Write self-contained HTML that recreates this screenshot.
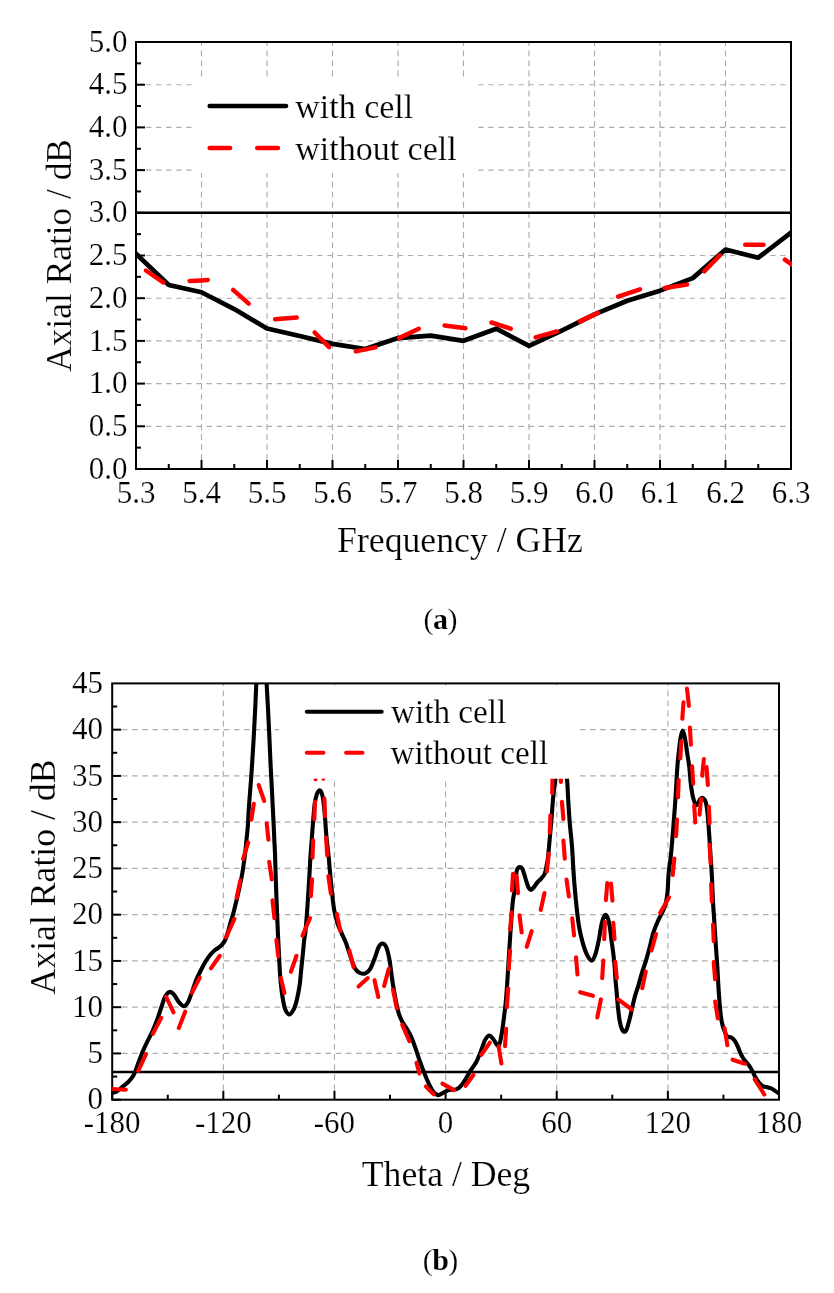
<!DOCTYPE html><html><head><meta charset="utf-8"><style>html,body{margin:0;padding:0;background:#fff;}svg{display:block;will-change:transform;} text{stroke:#fff;stroke-width:0.2px;}</style></head><body><svg width="834" height="1293" viewBox="0 0 834 1293"><g stroke="#acacac" stroke-width="1.15" fill="none"><line x1="136" y1="426.3" x2="791" y2="426.3" stroke-dasharray="5.25 4.817" stroke-dashoffset="0"/><line x1="136" y1="383.6" x2="791" y2="383.6" stroke-dasharray="5.25 4.817" stroke-dashoffset="0"/><line x1="136" y1="340.9" x2="791" y2="340.9" stroke-dasharray="5.25 4.817" stroke-dashoffset="0"/><line x1="136" y1="298.2" x2="791" y2="298.2" stroke-dasharray="5.25 4.817" stroke-dashoffset="0"/><line x1="136" y1="255.5" x2="791" y2="255.5" stroke-dasharray="5.25 4.817" stroke-dashoffset="0"/><line x1="136" y1="212.8" x2="791" y2="212.8" stroke-dasharray="5.25 4.817" stroke-dashoffset="0"/><line x1="136" y1="170.1" x2="791" y2="170.1" stroke-dasharray="5.25 4.817" stroke-dashoffset="0"/><line x1="136" y1="127.4" x2="791" y2="127.4" stroke-dasharray="5.25 4.817" stroke-dashoffset="0"/><line x1="136" y1="84.7" x2="791" y2="84.7" stroke-dasharray="5.25 4.817" stroke-dashoffset="0"/><line x1="201.5" y1="469" x2="201.5" y2="42" stroke-dasharray="5.9 4.2" stroke-dashoffset="1.3"/><line x1="267" y1="469" x2="267" y2="42" stroke-dasharray="5.9 4.2" stroke-dashoffset="1.3"/><line x1="332.5" y1="469" x2="332.5" y2="42" stroke-dasharray="5.9 4.2" stroke-dashoffset="1.3"/><line x1="398" y1="469" x2="398" y2="42" stroke-dasharray="5.9 4.2" stroke-dashoffset="1.3"/><line x1="463.5" y1="469" x2="463.5" y2="42" stroke-dasharray="5.9 4.2" stroke-dashoffset="1.3"/><line x1="529" y1="469" x2="529" y2="42" stroke-dasharray="5.9 4.2" stroke-dashoffset="1.3"/><line x1="594.5" y1="469" x2="594.5" y2="42" stroke-dasharray="5.9 4.2" stroke-dashoffset="1.3"/><line x1="660" y1="469" x2="660" y2="42" stroke-dasharray="5.9 4.2" stroke-dashoffset="1.3"/><line x1="725.5" y1="469" x2="725.5" y2="42" stroke-dasharray="5.9 4.2" stroke-dashoffset="1.3"/></g>
<g stroke="#000" stroke-width="2"><line x1="136" y1="469" x2="145" y2="469"/><line x1="136" y1="426.3" x2="145" y2="426.3"/><line x1="136" y1="383.6" x2="145" y2="383.6"/><line x1="136" y1="340.9" x2="145" y2="340.9"/><line x1="136" y1="298.2" x2="145" y2="298.2"/><line x1="136" y1="255.5" x2="145" y2="255.5"/><line x1="136" y1="212.8" x2="145" y2="212.8"/><line x1="136" y1="170.1" x2="145" y2="170.1"/><line x1="136" y1="127.4" x2="145" y2="127.4"/><line x1="136" y1="84.7" x2="145" y2="84.7"/><line x1="136" y1="447.65" x2="141" y2="447.65"/><line x1="136" y1="404.95" x2="141" y2="404.95"/><line x1="136" y1="362.25" x2="141" y2="362.25"/><line x1="136" y1="319.55" x2="141" y2="319.55"/><line x1="136" y1="276.85" x2="141" y2="276.85"/><line x1="136" y1="234.15" x2="141" y2="234.15"/><line x1="136" y1="191.45" x2="141" y2="191.45"/><line x1="136" y1="148.75" x2="141" y2="148.75"/><line x1="136" y1="106.05" x2="141" y2="106.05"/><line x1="136" y1="63.35" x2="141" y2="63.35"/><line x1="136" y1="469" x2="136" y2="460"/><line x1="201.5" y1="469" x2="201.5" y2="460"/><line x1="267" y1="469" x2="267" y2="460"/><line x1="332.5" y1="469" x2="332.5" y2="460"/><line x1="398" y1="469" x2="398" y2="460"/><line x1="463.5" y1="469" x2="463.5" y2="460"/><line x1="529" y1="469" x2="529" y2="460"/><line x1="594.5" y1="469" x2="594.5" y2="460"/><line x1="660" y1="469" x2="660" y2="460"/><line x1="725.5" y1="469" x2="725.5" y2="460"/><line x1="168.75" y1="469" x2="168.75" y2="464"/><line x1="234.25" y1="469" x2="234.25" y2="464"/><line x1="299.75" y1="469" x2="299.75" y2="464"/><line x1="365.25" y1="469" x2="365.25" y2="464"/><line x1="430.75" y1="469" x2="430.75" y2="464"/><line x1="496.25" y1="469" x2="496.25" y2="464"/><line x1="561.75" y1="469" x2="561.75" y2="464"/><line x1="627.25" y1="469" x2="627.25" y2="464"/><line x1="692.75" y1="469" x2="692.75" y2="464"/><line x1="758.25" y1="469" x2="758.25" y2="464"/></g>
<line x1="136" y1="212.8" x2="791" y2="212.8" stroke="#000" stroke-width="2.5"/>
<rect x="136" y="42" width="655" height="427" fill="none" stroke="#000" stroke-width="2"/>
<clipPath id="ca"><rect x="136" y="42" width="656" height="427"/></clipPath>
<g clip-path="url(#ca)" fill="none" stroke-linejoin="round" stroke-linecap="round">
<polyline stroke="#000" stroke-width="4.7" points="136,253.79 168.75,284.96 201.5,292.22 234.25,309.05 267,328.52 299.75,336.03 332.5,343.89 365.25,349.01 398,338.08 430.75,335.69 463.5,340.81 496.25,328.69 529,345.94 561.75,330.57 594.5,314.34 627.25,300.76 660,290.68 692.75,278.13 725.5,249.52 758.25,257.72 791,232.61"/>
<polyline stroke="#ff0000" stroke-width="4.5" points="145.9,270.5 163.3,282.5"/>
<polyline stroke="#ff0000" stroke-width="4.5" points="189.6,280.9 201.5,280.4 207.8,280"/>
<polyline stroke="#ff0000" stroke-width="4.5" points="233.1,289.9 248.7,303.6"/>
<polyline stroke="#ff0000" stroke-width="4.5" points="275.1,319.2 296.7,317.6"/>
<polyline stroke="#ff0000" stroke-width="4.5" points="314.6,332.5 329.1,347.2"/>
<polyline stroke="#ff0000" stroke-width="4.5" points="355.8,351.4 375.5,347.4"/>
<polyline stroke="#ff0000" stroke-width="4.5" points="399,338.1 418.8,328.8"/>
<polyline stroke="#ff0000" stroke-width="4.5" points="444.6,325.5 465.5,328.2"/>
<polyline stroke="#ff0000" stroke-width="4.5" points="491.5,322.5 510.7,328.7"/>
<polyline stroke="#ff0000" stroke-width="4.5" points="535.6,337.3 556.7,331.5"/>
<polyline stroke="#ff0000" stroke-width="4.5" points="579.8,321.4 598,312.9"/>
<polyline stroke="#ff0000" stroke-width="4.5" points="618.1,296.6 640,289.3"/>
<polyline stroke="#ff0000" stroke-width="4.5" points="664.7,288 687.1,284.6"/>
<polyline stroke="#ff0000" stroke-width="4.5" points="704.4,271.3 719.7,255.4"/>
<polyline stroke="#ff0000" stroke-width="4.5" points="745.2,244.8 763.5,244.8"/>
<polyline stroke="#ff0000" stroke-width="4.5" points="784.9,259.7 793,265.5"/>
</g>
<rect x="192" y="79" width="285.5" height="94" fill="#fff"/>
<g fill="none" stroke-width="4.6" stroke-linecap="round">
<line x1="209.7" y1="106" x2="286" y2="106" stroke="#000"/>
<line x1="209.7" y1="148" x2="230.1" y2="148" stroke="#ff0000"/>
<line x1="257.3" y1="148" x2="277.9" y2="148" stroke="#ff0000"/>
</g>
<g font-family='"Liberation Serif", serif' font-size="34" fill="#000">
<text x="295.2" y="118">with cell</text>
<text x="295.2" y="159.7">without cell</text>
</g>
<g font-family='"Liberation Serif", serif' font-size="31" fill="#000">
<text x="127.5" y="478.6" text-anchor="end">0.0</text>
<text x="127.5" y="435.9" text-anchor="end">0.5</text>
<text x="127.5" y="393.2" text-anchor="end">1.0</text>
<text x="127.5" y="350.5" text-anchor="end">1.5</text>
<text x="127.5" y="307.8" text-anchor="end">2.0</text>
<text x="127.5" y="265.1" text-anchor="end">2.5</text>
<text x="127.5" y="222.4" text-anchor="end">3.0</text>
<text x="127.5" y="179.7" text-anchor="end">3.5</text>
<text x="127.5" y="137" text-anchor="end">4.0</text>
<text x="127.5" y="94.3" text-anchor="end">4.5</text>
<text x="127.5" y="51.6" text-anchor="end">5.0</text>
<text x="136" y="502.7" text-anchor="middle">5.3</text>
<text x="201.5" y="502.7" text-anchor="middle">5.4</text>
<text x="267" y="502.7" text-anchor="middle">5.5</text>
<text x="332.5" y="502.7" text-anchor="middle">5.6</text>
<text x="398" y="502.7" text-anchor="middle">5.7</text>
<text x="463.5" y="502.7" text-anchor="middle">5.8</text>
<text x="529" y="502.7" text-anchor="middle">5.9</text>
<text x="594.5" y="502.7" text-anchor="middle">6.0</text>
<text x="660" y="502.7" text-anchor="middle">6.1</text>
<text x="725.5" y="502.7" text-anchor="middle">6.2</text>
<text x="791" y="502.7" text-anchor="middle">6.3</text>
</g>
<g font-family='"Liberation Serif", serif' font-size="35.7" fill="#000">
<text x="460" y="552.4" text-anchor="middle">Frequency / GHz</text>
<text transform="translate(70.6,255.4) rotate(-90)" text-anchor="middle" font-size="35.35">Axial Ratio / dB</text>
</g>
<text x="440.2" y="628.8" text-anchor="middle" font-family='"Liberation Serif", serif' font-size="30" letter-spacing="-0.6">(<tspan font-weight="bold">a</tspan>)</text>
<g stroke="#acacac" stroke-width="1.15" fill="none"><line x1="112.2" y1="1053.44" x2="779" y2="1053.44" stroke-dasharray="5.6 4.575" stroke-dashoffset="0.4"/><line x1="112.2" y1="1007.19" x2="779" y2="1007.19" stroke-dasharray="5.6 4.575" stroke-dashoffset="0.4"/><line x1="112.2" y1="960.93" x2="779" y2="960.93" stroke-dasharray="5.6 4.575" stroke-dashoffset="0.4"/><line x1="112.2" y1="914.68" x2="779" y2="914.68" stroke-dasharray="5.6 4.575" stroke-dashoffset="0.4"/><line x1="112.2" y1="868.42" x2="779" y2="868.42" stroke-dasharray="5.6 4.575" stroke-dashoffset="0.4"/><line x1="112.2" y1="822.17" x2="779" y2="822.17" stroke-dasharray="5.6 4.575" stroke-dashoffset="0.4"/><line x1="112.2" y1="775.91" x2="779" y2="775.91" stroke-dasharray="5.6 4.575" stroke-dashoffset="0.4"/><line x1="112.2" y1="729.66" x2="779" y2="729.66" stroke-dasharray="5.6 4.575" stroke-dashoffset="0.4"/><line x1="223.33" y1="1099.7" x2="223.33" y2="683.4" stroke-dasharray="5.7 4.4" stroke-dashoffset="0.5"/><line x1="334.47" y1="1099.7" x2="334.47" y2="683.4" stroke-dasharray="5.7 4.4" stroke-dashoffset="0.5"/><line x1="445.6" y1="1099.7" x2="445.6" y2="683.4" stroke-dasharray="5.7 4.4" stroke-dashoffset="0.5"/><line x1="556.73" y1="1099.7" x2="556.73" y2="683.4" stroke-dasharray="5.7 4.4" stroke-dashoffset="0.5"/><line x1="667.87" y1="1099.7" x2="667.87" y2="683.4" stroke-dasharray="5.7 4.4" stroke-dashoffset="0.5"/></g>
<g stroke="#000" stroke-width="2"><line x1="112.2" y1="1099.7" x2="121.2" y2="1099.7"/><line x1="112.2" y1="1053.44" x2="121.2" y2="1053.44"/><line x1="112.2" y1="1007.19" x2="121.2" y2="1007.19"/><line x1="112.2" y1="960.93" x2="121.2" y2="960.93"/><line x1="112.2" y1="914.68" x2="121.2" y2="914.68"/><line x1="112.2" y1="868.42" x2="121.2" y2="868.42"/><line x1="112.2" y1="822.17" x2="121.2" y2="822.17"/><line x1="112.2" y1="775.91" x2="121.2" y2="775.91"/><line x1="112.2" y1="729.66" x2="121.2" y2="729.66"/><line x1="112.2" y1="1076.57" x2="117.2" y2="1076.57"/><line x1="112.2" y1="1030.32" x2="117.2" y2="1030.32"/><line x1="112.2" y1="984.06" x2="117.2" y2="984.06"/><line x1="112.2" y1="937.81" x2="117.2" y2="937.81"/><line x1="112.2" y1="891.55" x2="117.2" y2="891.55"/><line x1="112.2" y1="845.29" x2="117.2" y2="845.29"/><line x1="112.2" y1="799.04" x2="117.2" y2="799.04"/><line x1="112.2" y1="752.78" x2="117.2" y2="752.78"/><line x1="112.2" y1="706.53" x2="117.2" y2="706.53"/><line x1="112.2" y1="1099.7" x2="112.2" y2="1090.7"/><line x1="223.33" y1="1099.7" x2="223.33" y2="1090.7"/><line x1="334.47" y1="1099.7" x2="334.47" y2="1090.7"/><line x1="445.6" y1="1099.7" x2="445.6" y2="1090.7"/><line x1="556.73" y1="1099.7" x2="556.73" y2="1090.7"/><line x1="667.87" y1="1099.7" x2="667.87" y2="1090.7"/><line x1="167.77" y1="1099.7" x2="167.77" y2="1094.7"/><line x1="278.9" y1="1099.7" x2="278.9" y2="1094.7"/><line x1="390.03" y1="1099.7" x2="390.03" y2="1094.7"/><line x1="501.17" y1="1099.7" x2="501.17" y2="1094.7"/><line x1="612.3" y1="1099.7" x2="612.3" y2="1094.7"/><line x1="723.43" y1="1099.7" x2="723.43" y2="1094.7"/></g>
<line x1="112.2" y1="1071.95" x2="779" y2="1071.95" stroke="#000" stroke-width="2.5"/>
<rect x="112.2" y="683.4" width="666.8" height="416.3" fill="none" stroke="#000" stroke-width="2"/>
<clipPath id="cb"><rect x="112.2" y="683.4" width="667.8" height="416.3"/></clipPath>
<g clip-path="url(#cb)" fill="none" stroke-linejoin="round" stroke-linecap="round" stroke-width="4.1">
<path stroke="#000" d="M112.3,1092.8 C113.03,1092.58 114.98,1092.52 116.7,1091.5 C118.42,1090.48 120.63,1088.33 122.6,1086.7 C124.57,1085.07 126.82,1083.37 128.5,1081.7 C130.18,1080.03 131.58,1078.38 132.7,1076.7 C133.82,1075.02 134.23,1073.98 135.2,1071.6 C136.17,1069.22 137.25,1065.75 138.5,1062.4 C139.75,1059.05 141.15,1055.13 142.7,1051.5 C144.25,1047.87 146.12,1044.1 147.8,1040.6 C149.48,1037.1 151.13,1034.28 152.8,1030.5 C154.47,1026.72 156.27,1022.1 157.8,1017.9 C159.33,1013.7 160.73,1008.93 162,1005.3 C163.27,1001.67 164.13,998.33 165.4,996.1 C166.67,993.87 168.2,992.18 169.6,991.9 C171,991.62 172.27,992.72 173.8,994.4 C175.33,996.08 177.12,1000.03 178.8,1002 C180.48,1003.97 182.35,1006.2 183.9,1006.2 C185.45,1006.2 186.7,1004.52 188.1,1002 C189.5,999.48 190.9,994.88 192.3,991.1 C193.7,987.32 195.05,982.82 196.5,979.3 C197.95,975.78 199.58,972.8 201,970 C202.42,967.2 203.48,965 205,962.5 C206.52,960 208.42,957.08 210.1,955 C211.78,952.92 213.43,951.4 215.1,950 C216.77,948.6 218.57,948 220.1,946.6 C221.63,945.2 223.17,943.42 224.3,941.6 C225.43,939.78 225.92,938.65 226.9,935.7 C227.88,932.75 229.08,927.82 230.2,923.9 C231.32,919.98 232.48,916.38 233.6,912.2 C234.72,908.02 235.78,903.57 236.9,898.8 C238.02,894.03 239.32,888.37 240.3,883.6 C241.28,878.83 242,875.2 242.8,870.2 C243.6,865.2 244.48,858.7 245.1,853.6 C245.72,848.5 246.03,844.25 246.5,839.6 C246.97,834.95 247.55,830.33 247.9,825.7 C248.25,821.07 248.32,816.43 248.6,811.8 C248.88,807.17 249.25,802.55 249.6,797.9 C249.95,793.25 250.35,788.55 250.7,783.9 C251.05,779.25 251.2,777.72 251.7,770 C252.2,762.28 253.12,747.8 253.7,737.6 C254.28,727.4 254.77,717.9 255.2,708.8 C255.63,699.7 255.92,691.13 256.3,683 C256.68,674.87 256.63,666.33 257.5,660 C258.37,653.67 260.17,645 261.5,645 C262.83,645 264.65,653.67 265.5,660 C266.35,666.33 266.18,674.87 266.6,683 C267.02,691.13 267.53,699.7 268,708.8 C268.47,717.9 268.97,728.23 269.4,737.6 C269.83,746.97 270.23,757.28 270.6,765 C270.97,772.72 271.32,778.42 271.6,783.9 C271.88,789.38 272.07,793.25 272.3,797.9 C272.53,802.55 272.77,807.17 273,811.8 C273.23,816.43 273.48,821.07 273.7,825.7 C273.92,830.33 274.08,834.95 274.3,839.6 C274.52,844.25 274.78,847.93 275,853.6 C275.22,859.27 275.3,864.68 275.6,873.6 C275.9,882.52 276.38,896.47 276.8,907.1 C277.22,917.73 277.73,929.52 278.1,937.4 C278.47,945.28 278.73,949.17 279,954.4 C279.27,959.63 279.4,964 279.7,968.8 C280,973.6 280.32,978.4 280.8,983.2 C281.28,988 281.88,993.28 282.6,997.6 C283.32,1001.92 284.02,1006.28 285.1,1009.1 C286.18,1011.92 287.77,1014.27 289.1,1014.5 C290.43,1014.73 291.97,1012.37 293.1,1010.5 C294.23,1008.63 295.07,1006.05 295.9,1003.3 C296.73,1000.55 297.43,997.35 298.1,994 C298.77,990.65 299.37,987.4 299.9,983.2 C300.43,979 300.82,973.6 301.3,968.8 C301.78,964 302.32,959.2 302.8,954.4 C303.28,949.6 303.77,943.68 304.2,940 C304.63,936.32 304.87,937.78 305.4,932.3 C305.93,926.82 306.72,916.88 307.4,907.1 C308.08,897.32 309,881.95 309.5,873.6 C310,865.25 310.07,862.08 310.4,857 C310.73,851.92 311.15,847.73 311.5,843.1 C311.85,838.47 312.15,833.83 312.5,829.2 C312.85,824.57 313.22,819.67 313.6,815.3 C313.98,810.93 314.3,806.38 314.8,803 C315.3,799.62 316,796.95 316.6,795 C317.2,793.05 317.9,792.07 318.4,791.3 C318.9,790.53 319.2,790.4 319.6,790.4 C320,790.4 320.35,790.53 320.8,791.3 C321.25,792.07 321.85,793.22 322.3,795 C322.75,796.78 323.03,798.05 323.5,802 C323.97,805.95 324.67,813.58 325.1,818.7 C325.53,823.82 325.7,828.05 326.1,832.7 C326.5,837.35 327.03,842.2 327.5,846.6 C327.97,851 328.52,855.2 328.9,859.1 C329.28,863 329.32,864.78 329.8,870 C330.28,875.22 331.07,883.72 331.8,890.4 C332.53,897.08 333.23,904.58 334.2,910.1 C335.17,915.62 336.33,919.58 337.6,923.5 C338.87,927.42 340.42,930.38 341.8,933.6 C343.18,936.82 344.52,939.17 345.9,942.8 C347.28,946.43 348.55,951.07 350.1,955.4 C351.65,959.73 353.52,965.87 355.2,968.8 C356.88,971.73 358.52,972.23 360.2,973 C361.88,973.77 363.62,974.1 365.3,973.4 C366.98,972.7 368.77,971.23 370.3,968.8 C371.83,966.37 373.1,962.43 374.5,958.8 C375.9,955.17 377.38,949.55 378.7,947 C380.02,944.45 381.15,943.5 382.4,943.5 C383.65,943.5 385,944.18 386.2,947 C387.4,949.82 388.62,955.08 389.6,960.4 C390.58,965.72 391.12,972.47 392.1,978.9 C393.08,985.33 394.38,993.23 395.5,999 C396.62,1004.77 397.62,1009.62 398.8,1013.5 C399.98,1017.38 401.2,1019.67 402.6,1022.3 C404,1024.93 405.72,1026.75 407.2,1029.3 C408.68,1031.85 410.07,1034.3 411.5,1037.6 C412.93,1040.9 414.37,1045.03 415.8,1049.1 C417.23,1053.17 418.65,1057.93 420.1,1062 C421.55,1066.07 423.05,1069.9 424.5,1073.5 C425.95,1077.1 427.37,1080.6 428.8,1083.6 C430.23,1086.6 431.55,1089.58 433.1,1091.5 C434.65,1093.42 436.42,1094.87 438.1,1095.1 C439.78,1095.33 441.4,1093.73 443.2,1092.9 C445,1092.07 446.75,1090.68 448.9,1090.1 C451.05,1089.52 454.18,1090 456.1,1089.4 C458.02,1088.8 458.97,1087.95 460.4,1086.5 C461.83,1085.05 463.02,1083.35 464.7,1080.7 C466.38,1078.05 468.57,1073.72 470.5,1070.6 C472.43,1067.48 474.62,1065.12 476.3,1062 C477.98,1058.88 479.17,1055.5 480.6,1051.9 C482.03,1048.3 483.47,1043.13 484.9,1040.4 C486.33,1037.67 487.77,1035.65 489.2,1035.5 C490.63,1035.35 491.95,1037.75 493.5,1039.5 C495.05,1041.25 497.18,1046.67 498.5,1046 C499.82,1045.33 500.55,1039.78 501.4,1035.5 C502.25,1031.22 502.87,1025.95 503.6,1020.3 C504.33,1014.65 505.18,1007.98 505.8,1001.6 C506.42,995.22 506.82,989.08 507.3,982 C507.78,974.92 508.23,966.5 508.7,959.1 C509.17,951.7 509.62,944.78 510.1,937.6 C510.58,930.42 511.12,922.27 511.6,916 C512.08,909.73 512.47,904.4 513,900 C513.53,895.6 514.32,893.13 514.8,889.6 C515.28,886.07 515.55,882.05 515.9,878.8 C516.25,875.55 516.25,872.07 516.9,870.1 C517.55,868.13 518.9,867.23 519.8,867 C520.7,866.77 521.52,867.33 522.3,868.7 C523.08,870.07 523.77,872.92 524.5,875.2 C525.23,877.48 525.98,880.25 526.7,882.4 C527.42,884.55 528.08,886.85 528.8,888.1 C529.52,889.35 530.17,890.02 531,889.9 C531.83,889.78 532.73,888.65 533.8,887.4 C534.87,886.15 536.2,883.83 537.4,882.4 C538.6,880.97 539.92,880 541,878.8 C542.08,877.6 543.17,876.4 543.9,875.2 C544.63,874 544.92,873.4 545.4,871.6 C545.88,869.8 546.37,866.75 546.8,864.4 C547.23,862.05 547.52,861.72 548,857.5 C548.48,853.28 549.1,845.75 549.7,839.1 C550.3,832.45 551,824.78 551.6,817.6 C552.2,810.42 552.65,802.48 553.3,796 C553.95,789.52 554.8,784.7 555.5,778.7 C556.2,772.7 556.58,765.62 557.5,760 C558.42,754.38 559.83,745 561,745 C562.17,745 563.5,754.38 564.5,760 C565.5,765.62 566.35,771.5 567,778.7 C567.65,785.9 567.92,795.53 568.4,803.2 C568.88,810.87 569.3,817.52 569.9,824.7 C570.5,831.88 571.42,838.75 572,846.3 C572.58,853.85 572.93,862.95 573.4,870 C573.87,877.05 574.27,882.4 574.8,888.6 C575.33,894.8 575.92,901.02 576.6,907.2 C577.28,913.38 577.9,919.83 578.9,925.7 C579.9,931.57 581.2,937.45 582.6,942.4 C584,947.35 585.75,952.37 587.3,955.4 C588.85,958.43 590.52,960.9 591.9,960.6 C593.28,960.3 594.43,957.08 595.6,953.6 C596.77,950.12 597.9,944.63 598.9,939.7 C599.9,934.77 600.62,928.07 601.6,924 C602.58,919.93 603.85,916.48 604.8,915.3 C605.75,914.12 606.5,915.17 607.3,916.9 C608.1,918.63 608.92,921.9 609.6,925.7 C610.28,929.5 610.78,935.05 611.4,939.7 C612.02,944.35 612.75,948.97 613.3,953.6 C613.85,958.23 614.33,963.1 614.7,967.5 C615.07,971.9 615.18,976 615.5,980 C615.82,984 616.22,987.18 616.6,991.5 C616.98,995.82 617.3,1001.1 617.8,1005.9 C618.3,1010.7 618.93,1016.47 619.6,1020.3 C620.27,1024.13 621,1026.98 621.8,1028.9 C622.6,1030.82 623.57,1031.8 624.4,1031.8 C625.23,1031.8 625.92,1031.07 626.8,1028.9 C627.68,1026.73 628.73,1022.63 629.7,1018.8 C630.67,1014.97 631.63,1009.97 632.6,1005.9 C633.57,1001.83 634.55,997.75 635.5,994.4 C636.45,991.05 637.27,989.28 638.3,985.8 C639.33,982.32 640.42,977.7 641.7,973.5 C642.98,969.3 644.68,964.92 646,960.6 C647.32,956.28 648.4,952.17 649.6,947.6 C650.8,943.03 651.87,937.52 653.2,933.2 C654.53,928.88 656.15,925.05 657.6,921.7 C659.05,918.35 660.58,915.97 661.9,913.1 C663.22,910.23 664.55,908.1 665.5,904.5 C666.45,900.9 667.08,896.65 667.6,891.5 C668.12,886.35 668.07,879.47 668.6,873.6 C669.13,867.73 670.12,862.78 670.8,856.3 C671.48,849.82 672.1,841.88 672.7,834.7 C673.3,827.52 673.88,820.15 674.4,813.2 C674.92,806.25 675.3,800.82 675.8,793 C676.3,785.18 676.9,773.15 677.4,766.3 C677.9,759.45 678.27,756.68 678.8,751.9 C679.33,747.12 679.95,741.17 680.6,737.6 C681.25,734.03 681.98,730.5 682.7,730.5 C683.42,730.5 684.18,734.03 684.9,737.6 C685.62,741.17 686.28,747.12 687,751.9 C687.72,756.68 688.55,760.88 689.2,766.3 C689.85,771.72 690.2,778.98 690.9,784.4 C691.6,789.82 692.43,795.32 693.4,798.8 C694.37,802.28 695.55,805.3 696.7,805.3 C697.85,805.3 699.22,800 700.3,798.8 C701.38,797.6 702.28,797.5 703.2,798.1 C704.12,798.7 705.08,799.88 705.8,802.4 C706.52,804.92 706.93,807.82 707.5,813.2 C708.07,818.58 708.68,827.52 709.2,834.7 C709.72,841.88 710.13,849.08 710.6,856.3 C711.07,863.52 711.6,870.45 712,878 C712.4,885.55 712.6,894.07 713,901.6 C713.4,909.13 713.93,916.02 714.4,923.2 C714.87,930.38 715.32,937.52 715.8,944.7 C716.28,951.88 716.85,959.1 717.3,966.3 C717.75,973.5 718.02,980.62 718.5,987.9 C718.98,995.18 719.65,1004.32 720.2,1010 C720.75,1015.68 721.13,1018.6 721.8,1022 C722.47,1025.4 723.3,1028 724.2,1030.4 C725.1,1032.8 726,1035.2 727.2,1036.4 C728.4,1037.6 730.1,1036.8 731.4,1037.6 C732.7,1038.4 733.9,1039.62 735,1041.2 C736.1,1042.78 737,1044.92 738,1047.1 C739,1049.28 739.9,1052.1 741,1054.3 C742.1,1056.5 743.3,1058.5 744.6,1060.3 C745.9,1062.1 747.5,1063.3 748.8,1065.1 C750.1,1066.9 751.32,1069.1 752.4,1071.1 C753.48,1073.1 754.22,1075.2 755.3,1077.1 C756.38,1079 757.7,1081 758.9,1082.5 C760.1,1084 761.2,1085.35 762.5,1086.1 C763.8,1086.85 765.2,1086.6 766.7,1087 C768.2,1087.4 770.1,1087.85 771.5,1088.5 C772.9,1089.15 773.68,1089.98 775.1,1090.9 C776.52,1091.82 779.18,1093.48 780,1094"/>
<polyline stroke="#ff0000" points="111,1088.9 125.8,1089.7"/>
<polyline stroke="#ff0000" points="138.2,1070.8 146.1,1054"/>
<polyline stroke="#ff0000" points="152.8,1033.9 161.2,1017.9"/>
<polyline stroke="#ff0000" points="166.2,996.9 173.5,1012.4"/>
<polyline stroke="#ff0000" points="178.8,1028 185.2,1011.7"/>
<polyline stroke="#ff0000" points="191.9,992.7 199.8,977.6"/>
<polyline stroke="#ff0000" points="210.9,968.4 219.8,955.8"/>
<polyline stroke="#ff0000" points="226,937.4 234.4,918.9"/>
<polyline stroke="#ff0000" points="236.6,897.9 240.3,880.3"/>
<polyline stroke="#ff0000" points="243,859.1 248.2,842.4"/>
<polyline stroke="#ff0000" points="251.4,819.8 253.8,803.8"/>
<polyline stroke="#ff0000" points="258.7,785 264.2,801"/>
<polyline stroke="#ff0000" points="266.7,823.3 268.4,839.6"/>
<polyline stroke="#ff0000" points="269.2,861.8 271.8,879.4"/>
<polyline stroke="#ff0000" points="272.5,900.4 274.4,918.1"/>
<polyline stroke="#ff0000" points="276.4,939.9 278.3,956.5"/>
<polyline stroke="#ff0000" points="280.8,978.1 284.4,992.9"/>
<polyline stroke="#ff0000" points="290.9,971.7 296.5,955.8"/>
<polyline stroke="#ff0000" points="302.4,935.7 310,918.1"/>
<polyline stroke="#ff0000" points="310.8,896.2 312.1,879.4"/>
<polyline stroke="#ff0000" points="312.5,857.7 313.2,840.3"/>
<polyline stroke="#ff0000" points="314.3,819.4 315,801.7"/>
<polyline stroke="#ff0000" points="315.5,779.3 316.8,762"/>
<polyline stroke="#ff0000" points="322.3,762 323.3,778.6"/>
<polyline stroke="#ff0000" points="324.4,798.6 325.1,816.3"/>
<polyline stroke="#ff0000" points="326.1,837.5 327.2,855.3"/>
<polyline stroke="#ff0000" points="328.4,876.1 330.9,893.7"/>
<polyline stroke="#ff0000" points="336.8,913.9 340.4,931.1"/>
<polyline stroke="#ff0000" points="349.3,950.4 353.5,967.1"/>
<polyline stroke="#ff0000" points="358.5,986.5 367.8,978.1"/>
<polyline stroke="#ff0000" points="374.5,980.2 378.3,997"/>
<polyline stroke="#ff0000" points="384.1,986 388.8,968.8"/>
<polyline stroke="#ff0000" points="393,989.8 396.8,1008.3"/>
<polyline stroke="#ff0000" points="402.2,1024.6 409.4,1041.2"/>
<polyline stroke="#ff0000" points="416.5,1062.7 419.4,1073.5"/>
<polyline stroke="#ff0000" points="425.9,1086.5 433.8,1094.4"/>
<polyline stroke="#ff0000" points="442.4,1083.6 454,1090.1"/>
<polyline stroke="#ff0000" points="465.5,1085.8 473.4,1075"/>
<polyline stroke="#ff0000" points="481.3,1054.8 489.9,1042.6"/>
<polyline stroke="#ff0000" points="498.6,1046.2 501.4,1063.5"/>
<polyline stroke="#ff0000" points="505,1046.2 506.2,1028.9"/>
<polyline stroke="#ff0000" points="506.8,1007.3 508.2,988.6"/>
<polyline stroke="#ff0000" points="508.7,969.2 510.1,950.5"/>
<polyline stroke="#ff0000" points="510.1,929.6 511.6,912.4"/>
<polyline stroke="#ff0000" points="512,890.5 513,873.7"/>
<polyline stroke="#ff0000" points="516.6,875.9 518,893.2"/>
<polyline stroke="#ff0000" points="519.5,915.3 521.7,932.5"/>
<polyline stroke="#ff0000" points="526.7,946.9 531.7,931.1"/>
<polyline stroke="#ff0000" points="540.7,910 544.5,893"/>
<polyline stroke="#ff0000" points="546.8,871.5 548.8,853.5"/>
<polyline stroke="#ff0000" points="549.7,832.7 550.4,815.4"/>
<polyline stroke="#ff0000" points="552.2,793.1 552.5,775"/>
<polyline stroke="#ff0000" points="560.6,777 561,782"/>
<polyline stroke="#ff0000" points="561.9,801.7 563.4,819"/>
<polyline stroke="#ff0000" points="563.4,840.6 564.8,858.6"/>
<polyline stroke="#ff0000" points="566.5,879.5 568.9,896.5"/>
<polyline stroke="#ff0000" points="572.2,918.3 574.1,935.5"/>
<polyline stroke="#ff0000" points="576,957.3 577.5,974.5"/>
<polyline stroke="#ff0000" points="580.1,992.2 593,995.8"/>
<polyline stroke="#ff0000" points="597.3,1017.4 600.9,999.4"/>
<polyline stroke="#ff0000" points="602.2,978.2 603.3,960.6"/>
<polyline stroke="#ff0000" points="604.2,939.2 604.9,922"/>
<polyline stroke="#ff0000" points="605.9,900.2 607.3,883"/>
<polyline stroke="#ff0000" points="611,883.5 612.4,900.6"/>
<polyline stroke="#ff0000" points="613.3,922.9 614.5,939.2"/>
<polyline stroke="#ff0000" points="615.2,961.5 616.8,978.2"/>
<polyline stroke="#ff0000" points="618.2,999.4 631.9,1009.5"/>
<polyline stroke="#ff0000" points="642.2,988.2 645.8,971.4"/>
<polyline stroke="#ff0000" points="651.5,950.5 656.1,934"/>
<polyline stroke="#ff0000" points="660.1,913.1 669.1,897.3"/>
<polyline stroke="#ff0000" points="672.7,875 674.4,858.5"/>
<polyline stroke="#ff0000" points="676.1,836.2 677,819.6"/>
<polyline stroke="#ff0000" points="678,797.3 678.7,780.1"/>
<polyline stroke="#ff0000" points="680.3,758.4 681.3,741.2"/>
<polyline stroke="#ff0000" points="682.3,718.8 683.5,702.3"/>
<polyline stroke="#ff0000" points="687,688.6 688.9,705.9"/>
<polyline stroke="#ff0000" points="689.9,727.5 690.9,744.7"/>
<polyline stroke="#ff0000" points="692.1,766.3 693.2,783.6"/>
<polyline stroke="#ff0000" points="694.2,805.3 695.3,822.5"/>
<polyline stroke="#ff0000" points="699.6,814.6 701,798.8"/>
<polyline stroke="#ff0000" points="702.2,775.7 703.9,759.1"/>
<polyline stroke="#ff0000" points="706.5,767 707.9,785"/>
<polyline stroke="#ff0000" points="708.9,806.7 709.6,823.2"/>
<polyline stroke="#ff0000" points="709.6,844.8 710.6,863.5"/>
<polyline stroke="#ff0000" points="711.1,884.4 711.9,901.6"/>
<polyline stroke="#ff0000" points="713,924.6 713.7,941.2"/>
<polyline stroke="#ff0000" points="713.7,962 715.1,979.3"/>
<polyline stroke="#ff0000" points="715.2,1001.6 717.8,1018.4"/>
<polyline stroke="#ff0000" points="724.5,1028 727.4,1045.3"/>
<polyline stroke="#ff0000" points="732.6,1059.7 744.9,1063.7"/>
<polyline stroke="#ff0000" points="754.7,1079.5 764.3,1094.5"/>
</g>
<rect x="279" y="685.5" width="301" height="93.2" fill="#fff"/>
<g fill="none" stroke-width="4" stroke-linecap="round">
<line x1="306.8" y1="711.8" x2="381.7" y2="711.8" stroke="#000"/>
<line x1="306.8" y1="752.7" x2="323.4" y2="752.7" stroke="#ff0000"/>
<line x1="346.1" y1="752.7" x2="362.5" y2="752.7" stroke="#ff0000"/>
</g>
<g font-family='"Liberation Serif", serif' font-size="33.2" fill="#000">
<text x="391" y="723">with cell</text>
<text x="390.6" y="763.5">without cell</text>
</g>
<g font-family='"Liberation Serif", serif' font-size="31" fill="#000">
<text x="103" y="1109.3" text-anchor="end">0</text>
<text x="103" y="1063.04" text-anchor="end">5</text>
<text x="103" y="1016.79" text-anchor="end">10</text>
<text x="103" y="970.53" text-anchor="end">15</text>
<text x="103" y="924.28" text-anchor="end">20</text>
<text x="103" y="878.02" text-anchor="end">25</text>
<text x="103" y="831.77" text-anchor="end">30</text>
<text x="103" y="785.51" text-anchor="end">35</text>
<text x="103" y="739.26" text-anchor="end">40</text>
<text x="103" y="693" text-anchor="end">45</text>
<text x="112.2" y="1133.4" text-anchor="middle">-180</text>
<text x="223.33" y="1133.4" text-anchor="middle">-120</text>
<text x="334.47" y="1133.4" text-anchor="middle">-60</text>
<text x="445.6" y="1133.4" text-anchor="middle">0</text>
<text x="556.73" y="1133.4" text-anchor="middle">60</text>
<text x="667.87" y="1133.4" text-anchor="middle">120</text>
<text x="779" y="1133.4" text-anchor="middle">180</text>
</g>
<g font-family='"Liberation Serif", serif' font-size="35.7" fill="#000">
<text x="446" y="1185.6" text-anchor="middle">Theta / Deg</text>
<text transform="translate(55.3,877.0) rotate(-90)" text-anchor="middle">Axial Ratio / dB</text>
</g>
<text x="440.3" y="1269.5" text-anchor="middle" font-family='"Liberation Serif", serif' font-size="30" letter-spacing="-0.6">(<tspan font-weight="bold">b</tspan>)</text></svg></body></html>
